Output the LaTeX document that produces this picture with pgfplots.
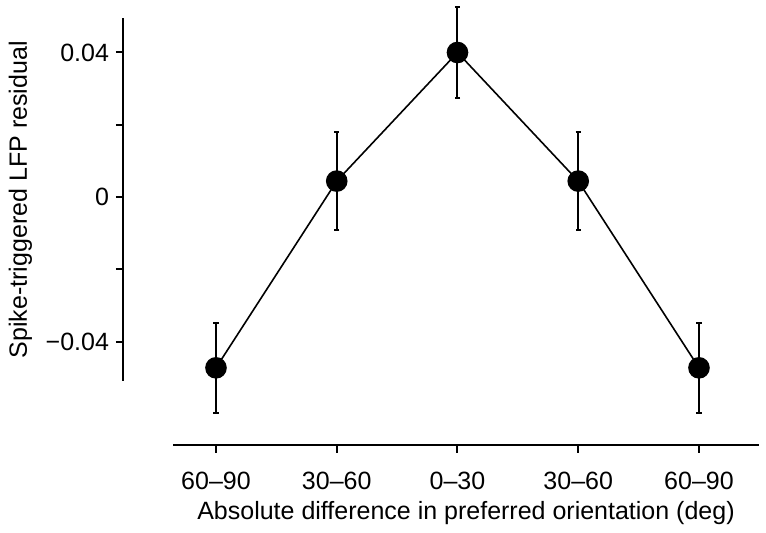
\documentclass[border=0pt]{standalone}
\usepackage{pgfplots}
\pgfplotsset{compat=1.18}
\usepackage{fontspec}
\setmainfont{Liberation Sans}
\newcommand{\ff}{\fontsize{12.5}{15}\selectfont}
\begin{document}
\begin{tikzpicture}[x=1pt,y=1pt]
\path[use as bounding box] (0,0) rectangle (383,266.5);
% data axis with x spine
\begin{axis}[
  at={(86.5pt,44pt)}, anchor=south west,
  scale only axis, width=293pt, height=222.5pt,
  xmin=-0.356, xmax=4.497, ymin=-0.06866, ymax=0.05454,
  axis x line*=bottom, axis y line=none,
  axis line style={line width=1pt, -},
  xtick={0,1,2,3,4},
  xticklabels={60–90,30–60,0–30,30–60,60–90},
  xtick align=outside, major tick length=4pt,
  tick style={line width=1pt, black},
  tick label style={font=\ff},
  xticklabel style={yshift=-6pt},
  label style={font=\ff},
  xlabel style={yshift=1pt},
  xlabel={Absolute difference in preferred orientation (deg)},
  clip=false,
]
\addplot[black, line width=0.8pt, mark=*, mark size=5pt,
  error bars/.cd, y dir=both, y explicit,
  error bar style={line width=1pt, black},
  error mark options={rotate=90, mark size=1.3pt, line width=1pt}]
  coordinates {
  (0,-0.0473) +- (0,0.0125)
  (1,0.0044) +- (0,0.0136)
  (2,0.0400) +- (0,0.0126)
  (3,0.0044) +- (0,0.0136)
  (4,-0.0473) +- (0,0.0125)
};
\end{axis}
% y spine axis
\begin{axis}[
  at={(61.5pt,76pt)}, anchor=south west,
  scale only axis, width=10pt, height=181.25pt,
  xmin=0, xmax=1, ymin=-0.0509, ymax=0.0494,
  axis y line*=left, axis x line=none,
  axis line style={line width=1pt, -},
  scaled y ticks=false,
  ytick={-0.04,0,0.04},
  yticklabels={−0.04,0,0.04},
  minor ytick={-0.02,0.02},
  ytick align=outside, major tick length=3.5pt, minor tick length=3.5pt,
  tick style={line width=1pt, black},
  tick label style={font=\ff},
  label style={font=\ff},
  ylabel={Spike-triggered LFP residual},
]
\end{axis}
\end{tikzpicture}
\end{document}
